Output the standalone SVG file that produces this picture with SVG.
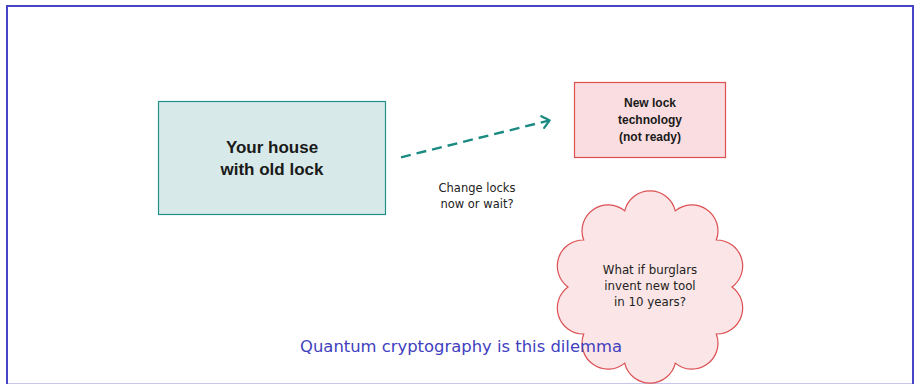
<svg xmlns="http://www.w3.org/2000/svg" width="915" height="384" viewBox="0 0 915 384">
  <style>
    .bold { font-family: "Liberation Sans", Arial, sans-serif; font-weight: bold; fill: #1a1a1a; text-anchor: middle; }
    .norm { font-family: "DejaVu Sans", sans-serif; fill: #222; text-anchor: middle; }
    .title { font-family: "DejaVu Sans", sans-serif; fill: #4040c0; text-anchor: middle; font-size: 16.4px; }
    .conn { fill: none; stroke: #1a8a82; stroke-width: 2.4; }
  </style>
  <defs>
    <marker id="arrow" viewBox="-10 -8 12 16" markerWidth="12" markerHeight="16" refX="0" refY="0" orient="auto" markerUnits="userSpaceOnUse">
      <path d="M -7 -6 Q -1.5 -1.5 0 0 Q -1.5 1.5 -7 6" fill="none" stroke="#1a8a82" stroke-width="2.2" stroke-linecap="round"/>
    </marker>
  </defs>
  <rect x="7" y="6" width="906" height="378.7" fill="#fff" stroke="#4444c4" stroke-width="2"/>

  <g id="house">
    <rect x="158.5" y="101.5" width="227" height="113" fill="#d7eae9" stroke="#20908a" stroke-width="1.2"/>
    <text class="bold" x="272" y="153" font-size="17">Your house</text>
    <text class="bold" x="272" y="175" font-size="17">with old lock</text>
  </g>

  <g id="newlock">
    <rect x="574.5" y="82.5" width="151" height="75" fill="#f9dde0" stroke="#e05050" stroke-width="1.2"/>
    <text class="bold" x="650" y="107" font-size="12">New lock</text>
    <text class="bold" x="650" y="123.5" font-size="12">technology</text>
    <text class="bold" x="650" y="140.5" font-size="12">(not ready)</text>
  </g>

  <g id="connectors">
    <path class="conn" d="M 401 157.3 L 549.5 120.4" stroke-dasharray="10 6" marker-end="url(#arrow)"/>
  </g>

  <g id="label">
    <text class="norm" x="477" y="191.7" font-size="11.5">Change locks</text>
    <text class="norm" x="477" y="208.3" font-size="11.5">now or wait?</text>
  </g>

  <g id="cloud">
    <path d="M 732 287 A 26 26 0 0 1 716.3 334 A 26 26 0 0 1 675.3 363.1 A 26 26 0 0 1 624.7 363.1 A 26 26 0 0 1 583.7 334 A 26 26 0 0 1 568 287 A 26 26 0 0 1 583.7 240 A 26 26 0 0 1 624.7 210.9 A 26 26 0 0 1 675.3 210.9 A 26 26 0 0 1 716.3 240 A 26 26 0 0 1 732 287 Z" fill="#fbe5e6" stroke="#dc4f52" stroke-width="1.2"/>
    <text class="norm" x="650" y="274.3" font-size="11.8">What if burglars</text>
    <text class="norm" x="650" y="290" font-size="11.8">invent new tool</text>
    <text class="norm" x="650" y="305.7" font-size="11.8">in 10 years?</text>
  </g>

  <g id="title">
    <text class="title" x="461" y="351.7">Quantum cryptography is this dilemma</text>
  </g>
</svg>
